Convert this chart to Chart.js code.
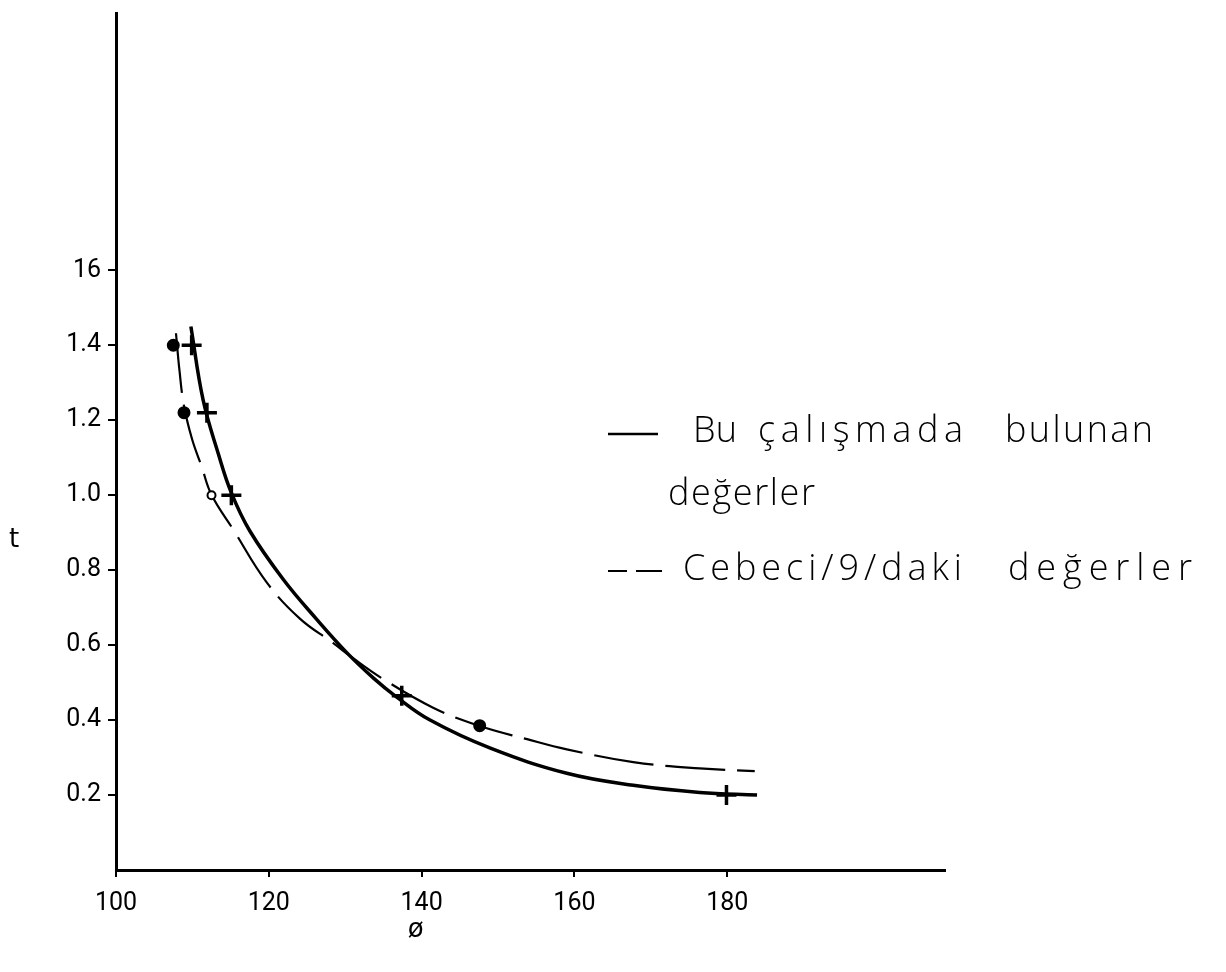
<!DOCTYPE html>
<html>
<head>
<meta charset="utf-8">
<script src="https://cdn.jsdelivr.net/npm/chart.js@4.4.1/dist/chart.umd.min.js"></script>
<style>
  html,body{margin:0;padding:0;background:#fff;}
  #wrap{width:1226px;height:972px;}
</style>
</head>
<body>
<div id="wrap"><canvas id="tChart" width="1226" height="972"></canvas></div>
<script>
// solid curve: values found in this work
const solidPhi = [109.8, 111.4, 113.4, 115.1, 117.5, 121.9, 126.3, 130.2, 133.7, 136.7, 141.1, 149.0, 159.0, 167.7, 176.4, 183.9];
const solidT   = [1.45, 1.254, 1.11, 1.006, 0.905, 0.775, 0.668, 0.580, 0.512, 0.462, 0.400, 0.325, 0.258, 0.226, 0.207, 0.200];

// dashed curve: Cebeci values
const cebeciPhi = [107.85, 108.3, 108.9, 109.95, 111.2, 112.5, 115.35, 119.7, 124.1, 128.4, 130.9, 135.0, 141.5, 147.6, 153.8, 159.0, 167.7, 176.4, 183.6];
const cebeciT   = [1.432, 1.334, 1.238, 1.150, 1.077, 1.001, 0.908, 0.768, 0.670, 0.606, 0.567, 0.509, 0.433, 0.384, 0.349, 0.322, 0.288, 0.271, 0.264];

// measured points
const crossPhi = [109.9, 111.9, 115.1, 137.4, 179.9];
const crossT   = [1.40, 1.22, 1.00, 0.465, 0.20];
const dotPhi   = [107.5, 108.9, 112.5, 147.6];
const dotT     = [1.40, 1.22, 1.00, 0.385];

// axis ticks
const xTicks = [100, 120, 140, 160, 180];
const yTicks = [0.2, 0.4, 0.6, 0.8, 1.0, 1.2, 1.4, 1.6];
const yTickLabels = ['0.2', '0.4', '0.6', '0.8', '1.0', '1.2', '1.4', '16'];

// legend words: [text, left, right, line y]
const legendWords = [
  ['Bu', 693, 737, 432], ['çalışmada', 758, 963, 432], ['bulunan', 1005, 1153, 432],
  ['değerler', 668, 815, 495],
  ['Cebeci/9/daki', 683, 962, 570], ['değerler', 1008, 1192, 570]
];

const pts = (xs, ys) => xs.map((x, i) => ({x: x, y: ys[i]}));

const tickFont = {family: "Roboto, 'DejaVu Sans', sans-serif", size: 25};
const handFont = "300 36px 'Open Sans', 'DejaVu Sans', sans-serif";

// spread a word so it spans left..right
function fitText(ctx, text, x0, x1, y){
  ctx.letterSpacing = '0px';
  const w = ctx.measureText(text).width;
  const sp = text.length > 1 ? (x1 - x0 - w) / (text.length - 1) : 0;
  ctx.letterSpacing = sp + 'px';
  ctx.fillText(text, x0, y);
  ctx.letterSpacing = '0px';
}

const sideLegend = {
  id: 'sideLegend',
  afterDraw(chart){
    const ctx = chart.ctx;
    ctx.save();
    ctx.fillStyle = '#000';
    ctx.strokeStyle = '#000';
    ctx.textBaseline = 'middle';
    ctx.textAlign = 'left';

    // axis names
    ctx.font = "26px 'DejaVu Sans', sans-serif";
    ctx.fillText('t', 9, 540);
    ctx.textAlign = 'center';
    ctx.fillText('ø', chart.scales.x.getPixelForValue(140) - 6, 930);
    ctx.textAlign = 'left';

    // line samples
    ctx.lineWidth = 2.5;
    ctx.beginPath();
    ctx.moveTo(608, 434); ctx.lineTo(658, 434);
    ctx.stroke();
    ctx.lineWidth = 2;
    ctx.beginPath();
    ctx.moveTo(608, 571); ctx.lineTo(627, 571);
    ctx.moveTo(636, 571); ctx.lineTo(662, 571);
    ctx.stroke();

    ctx.font = handFont;
    legendWords.forEach(w => fitText(ctx, w[0], w[1], w[2], w[3]));
    ctx.restore();
  }
};

const ctx = document.getElementById('tChart').getContext('2d');
new Chart(ctx, {
  type: 'scatter',
  data: {
    datasets: [
      {label: 'Bu çalışmada bulunan değerler', data: pts(solidPhi, solidT), showLine: true,
       borderColor: '#000', borderWidth: 3.5, pointRadius: 0, tension: 0.4, order: 3},
      {label: 'Cebeci/9/daki değerler', data: pts(cebeciPhi, cebeciT), showLine: true,
       borderColor: '#000', borderWidth: 2.2, borderDash: [60, 12], pointRadius: 0, tension: 0.4, order: 2},
      {label: 'crosses', data: pts(crossPhi, crossT), pointStyle: 'cross', pointRadius: 10,
       pointBorderWidth: 3.5, borderColor: '#000', backgroundColor: '#000', order: 1},
      {label: 'dots', data: pts(dotPhi, dotT), pointStyle: 'circle', pointRadius: [5.5, 5.5, 4, 5.5],
       pointBorderWidth: 2, borderColor: '#000', backgroundColor: ['#000', '#000', '#fff', '#000'], order: 0}
    ]
  },
  options: {
    responsive: false,
    animation: false,
    layout: {padding: {left: 0, top: 2, right: 281, bottom: 0}},
    plugins: {legend: {display: false}, tooltip: {enabled: false}},
    scales: {
      x: {
        type: 'linear', min: 100, max: 208.5,
        afterBuildTicks: s => { s.ticks = xTicks.map(v => ({value: v})); },
        afterFit: s => { s.height = 102; },
        grid: {drawOnChartArea: false, drawTicks: true, tickLength: 7, color: '#000', lineWidth: 2},
        border: {color: '#000', width: 3},
        ticks: {color: '#000', font: tickFont, padding: 12, maxRotation: 0}
      },
      y: {
        type: 'linear', min: 0, max: 2.285,
        afterBuildTicks: s => { s.ticks = yTicks.map(v => ({value: v})); },
        afterFit: s => { s.width = 116; s.paddingTop = 0; s.paddingBottom = 0; },
        grid: {drawOnChartArea: false, drawTicks: true, tickLength: 8, color: '#000', lineWidth: 2},
        border: {color: '#000', width: 3},
        ticks: {color: '#000', font: tickFont, padding: 7,
          callback: (v) => { const i = yTicks.indexOf(+v.toFixed(1)); return i >= 0 ? yTickLabels[i] : ''; }}
      }
    }
  },
  plugins: [sideLegend]
});
</script>
</body>
</html>
